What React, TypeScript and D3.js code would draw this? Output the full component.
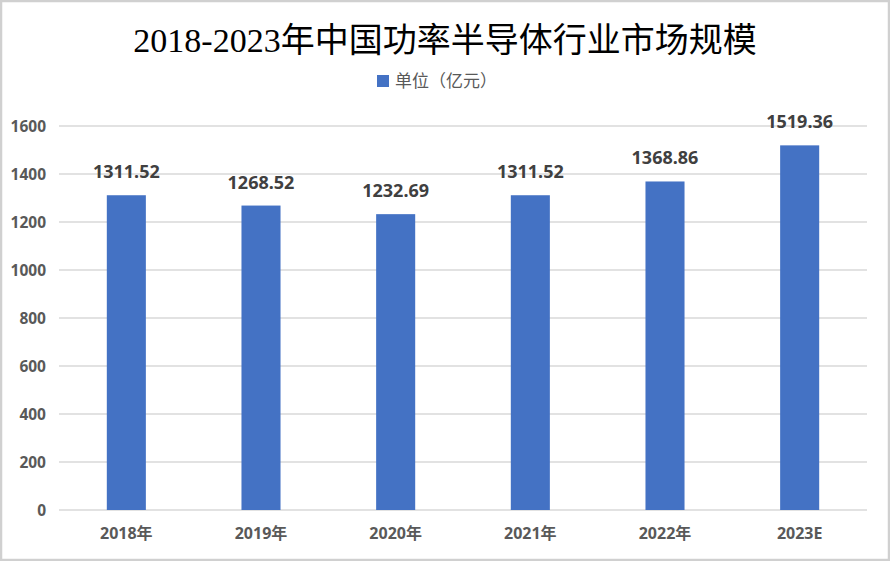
import { useEffect, useRef } from "react";
import * as d3 from "d3";

const categories = ["2018年", "2019年", "2020年", "2021年", "2022年", "2023E"];
const values = [1311.52, 1268.52, 1232.69, 1311.52, 1368.86, 1519.36];
const yTicks = [0, 200, 400, 600, 800, 1000, 1200, 1400, 1600];
const title = "2018-2023年中国功率半导体行业市场规模";
const seriesName = "单位（亿元）";

export default function App() {
  const svgRef = useRef<SVGSVGElement>(null);

  useEffect(() => {
    if (!svgRef.current) return;
    const W = 890;
    const H = 561;
    const margin = { top: 126, right: 23, bottom: 51, left: 59 };
    const width = W - margin.left - margin.right;
    const height = H - margin.top - margin.bottom;

    const svg = d3.select(svgRef.current);
    svg.selectAll("*").remove();

    svg.append("rect")
      .attr("x", 1)
      .attr("y", 1)
      .attr("width", W - 2)
      .attr("height", H - 2)
      .attr("fill", "#fff")
      .attr("stroke", "#d0d0d0")
      .attr("stroke-width", 2.5);

    svg.append("text")
      .attr("x", W / 2)
      .attr("y", 52)
      .attr("text-anchor", "middle")
      .attr("font-family", "'Liberation Serif', 'Noto Sans CJK SC', serif")
      .attr("font-size", 34)
      .attr("fill", "#000")
      .text(title);

    // legend
    svg.append("rect")
      .attr("x", 377)
      .attr("y", 75)
      .attr("width", 12)
      .attr("height", 12)
      .attr("fill", "#4472C4");
    svg.append("text")
      .attr("x", 395)
      .attr("y", 87)
      .attr("font-family", "'Noto Sans CJK SC', sans-serif")
      .attr("font-size", 17)
      .attr("fill", "#595959")
      .text(seriesName);

    const g = svg.append("g")
      .attr("transform", `translate(${margin.left},${margin.top})`);

    const x = d3.scaleBand<string>()
      .domain(categories)
      .range([0, width])
      .paddingInner(0.71)
      .paddingOuter(0.355);
    const y = d3.scaleLinear()
      .domain([0, 1600])
      .range([height, 0]);

    g.selectAll("line.grid")
      .data(yTicks)
      .enter()
      .append("line")
      .attr("x1", 0)
      .attr("x2", width)
      .attr("y1", d => y(d))
      .attr("y2", d => y(d))
      .attr("stroke", "#d9d9d9")
      .attr("stroke-width", 1.5);

    g.selectAll("text.ytick")
      .data(yTicks)
      .enter()
      .append("text")
      .attr("x", -13)
      .attr("y", d => y(d))
      .attr("dy", "0.36em")
      .attr("text-anchor", "end")
      .attr("font-family", "'Noto Sans', sans-serif")
      .attr("font-weight", "bold")
      .attr("font-size", 15.5)
      .attr("fill", "#595959")
      .text(d => d);

    g.selectAll("rect.bar")
      .data(values)
      .enter()
      .append("rect")
      .attr("x", (_, i) => x(categories[i])!)
      .attr("y", d => y(d))
      .attr("width", x.bandwidth())
      .attr("height", d => height - y(d))
      .attr("fill", "#4472C4");

    g.selectAll("text.val")
      .data(values)
      .enter()
      .append("text")
      .attr("x", (_, i) => x(categories[i])! + x.bandwidth() / 2)
      .attr("y", d => y(d) - 17)
      .attr("text-anchor", "middle")
      .attr("font-family", "'Noto Sans', sans-serif")
      .attr("font-weight", "bold")
      .attr("font-size", 18)
      .attr("fill", "#404040")
      .text(d => d.toFixed(2));

    g.selectAll("text.xtick")
      .data(categories)
      .enter()
      .append("text")
      .attr("x", d => x(d)! + x.bandwidth() / 2)
      .attr("y", height + 29)
      .attr("text-anchor", "middle")
      .attr("font-family", "'Noto Sans', 'Noto Sans CJK SC', sans-serif")
      .attr("font-weight", "bold")
      .attr("font-size", 16)
      .attr("fill", "#595959")
      .text(d => d);
  }, []);

  return (
    <div style={{ position: "absolute", left: 0, top: 0 }}>
      <svg ref={svgRef} width={890} height={561} style={{ display: "block" }}></svg>
    </div>
  );
}
